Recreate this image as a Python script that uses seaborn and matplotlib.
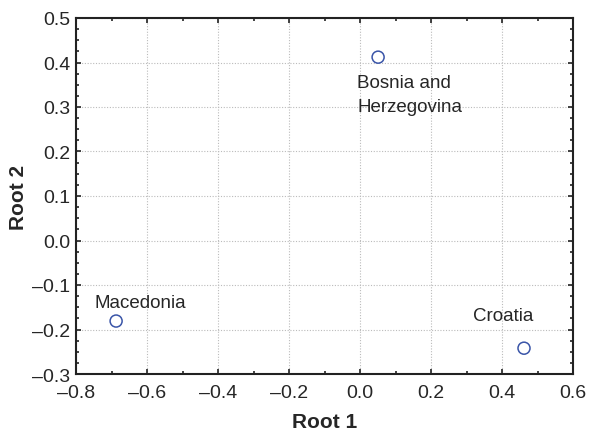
import matplotlib
matplotlib.use("Agg")
import matplotlib.pyplot as plt
import seaborn as sns
import pandas as pd
from matplotlib.ticker import MultipleLocator, FuncFormatter

countries = ["Macedonia", "Bosnia and\nHerzegovina", "Croatia"]
root1 = [-0.687, 0.051, 0.462]
root2 = [-0.181, 0.412, -0.242]

df = pd.DataFrame({"Root 1": root1, "Root 2": root2, "country": countries})

sns.set_style("white")
plt.rcParams['font.family'] = ['Liberation Sans', 'DejaVu Sans']

fig = plt.figure(figsize=(5.93, 4.35), dpi=100)
ax = fig.add_axes([76/593, 1-375/435, (573-76)/593, (375-19)/435])

sns.scatterplot(data=df, x="Root 1", y="Root 2", ax=ax, s=75,
                facecolor="none", edgecolor="#3a55a8", linewidth=1.1, zorder=3)

txt = "#262626"
ax.set_xlim(-0.8, 0.6)
ax.set_ylim(-0.3, 0.5)
ax.xaxis.set_major_locator(MultipleLocator(0.2))
ax.xaxis.set_minor_locator(MultipleLocator(0.1))
ax.yaxis.set_major_locator(MultipleLocator(0.1))
ax.yaxis.set_minor_locator(MultipleLocator(0.025))
ax.grid(True, which="major", linestyle=(0, (1, 1.5)), color="#bbbbbb", linewidth=0.8)
ax.tick_params(which="both", direction="in", top=True, right=True, bottom=True, left=True,
               colors="#222222", labelcolor=txt, width=1.2)
ax.tick_params(which="major", length=3.5, labelsize=14)
ax.tick_params(axis="x", which="major", pad=7)
ax.tick_params(axis="y", which="major", pad=4)
ax.tick_params(which="minor", length=2.5)
fmt = FuncFormatter(lambda v, p: f"{v:.1f}".replace("-", "\u2013"))
ax.xaxis.set_major_formatter(fmt)
ax.yaxis.set_major_formatter(fmt)
for s in ax.spines.values():
    s.set_linewidth(1.5)
    s.set_color("#222222")

ax.set_xlabel("Root 1", fontsize=15, fontweight="bold", labelpad=8, color=txt)
ax.set_ylabel("Root 2", fontsize=15, fontweight="bold", labelpad=3, color=txt)

# label placement (pixel offsets from each marker)
offsets = {"Macedonia": (24, 19, "center", "center", "center"),
           "Bosnia and\nHerzegovina": (-21, -17, "left", "top", "left"),
           "Croatia": (-21, 33, "center", "center", "center")}
for x, y, c in zip(root1, root2, countries):
    dx, dy, ha, va, ma = offsets[c]
    ax.annotate(c, (x, y), xytext=(dx, dy), textcoords="offset pixels",
                ha=ha, va=va, ma=ma, fontsize=13.5, color=txt, linespacing=1.5)

fig.savefig("out.png", dpi=100)
